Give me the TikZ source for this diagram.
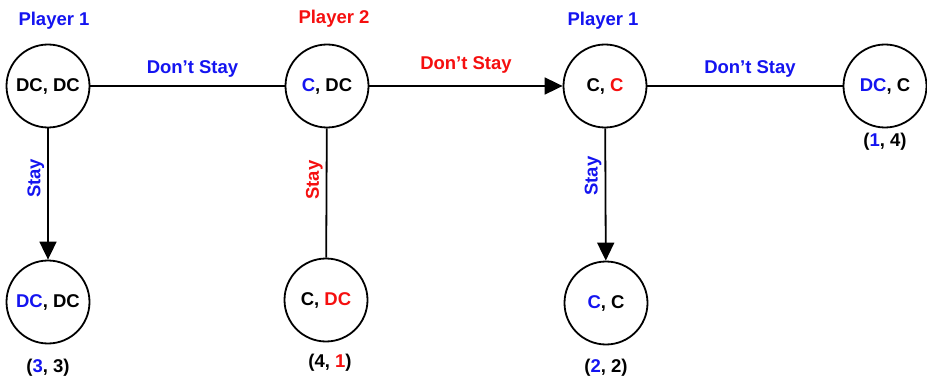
\documentclass[tikz,border=0pt]{standalone}
\usepackage{fontspec}
\setmainfont{Liberation Sans}
\usetikzlibrary{arrows.meta}
\definecolor{pblue}{RGB}{20,20,240}
\definecolor{pred}{RGB}{245,15,15}
\tikzset{
  state/.style={circle, draw, line width=1.8pt, minimum size=83pt, inner sep=0pt, font=\fontsize{18.5}{22}\selectfont\bfseries},
  lbl/.style={font=\fontsize{18.5}{22}\selectfont\bfseries, inner sep=1pt},
  conn/.style={line width=1.8pt},
  arr/.style={conn, -{Triangle[length=18pt,width=17pt]}},
}
\begin{document}
\begin{tikzpicture}[x=1pt,y=-1pt]
\useasboundingbox (0,0) rectangle (927,377);
% top row
\node[state] (a) at (48,86) {DC, DC};
\node[state] (b) at (327,86) {\textcolor{pblue}{C}, DC};
\node[state] (c) at (605,86) {C, \textcolor{pred}{C}};
\node[state] (d) at (885,86) {\textcolor{pblue}{DC}, C};
% bottom row
\node[state] (e) at (48,302) {\textcolor{pblue}{DC}, DC};
\node[state] (f) at (326,300) {C, \textcolor{pred}{DC}};
\node[state] (g) at (606,303) {\textcolor{pblue}{C}, C};
% player labels
\node[lbl, text=pblue] (p1) at (54,21) {Player 1};
\node[lbl, text=pred] (p2) at (334,19) {Player 2};
\node[lbl, text=pblue] (p3) at (603,21) {Player 1};
% payoffs
\node[lbl] (pa) at (48,368) {(\textcolor{pblue}{3}, 3)};
\node[lbl] (pf) at (330,363) {(4, \textcolor{pred}{1})};
\node[lbl] (pg) at (606,368) {(\textcolor{pblue}{2}, 2)};
\node[lbl] (pd) at (885,142) {(\textcolor{pblue}{1}, 4)};
% connectors
\draw[conn] (a) -- node[lbl, text=pblue, above=7pt, xshift=5pt] (l1) {Don’t Stay} (b);
\draw[arr] (b) -- node[lbl, text=pred, above=11pt] (l2) {Don’t Stay} (c);
\draw[conn] (c) -- node[lbl, text=pblue, above=7pt, xshift=5pt] (l3) {Don’t Stay} (d);
\draw[arr] (a) -- node[lbl, text=pblue, rotate=90, above=2pt, pos=0.38] (s1) {Stay} (e);
\draw[conn] (b) -- node[lbl, text=pred, rotate=90, above=2pt, pos=0.4] (s2) {Stay} (f);
\draw[arr] (c) -- node[lbl, text=pblue, rotate=90, above=2pt, pos=0.36] (s3) {Stay} (g);
\end{tikzpicture}
\end{document}
